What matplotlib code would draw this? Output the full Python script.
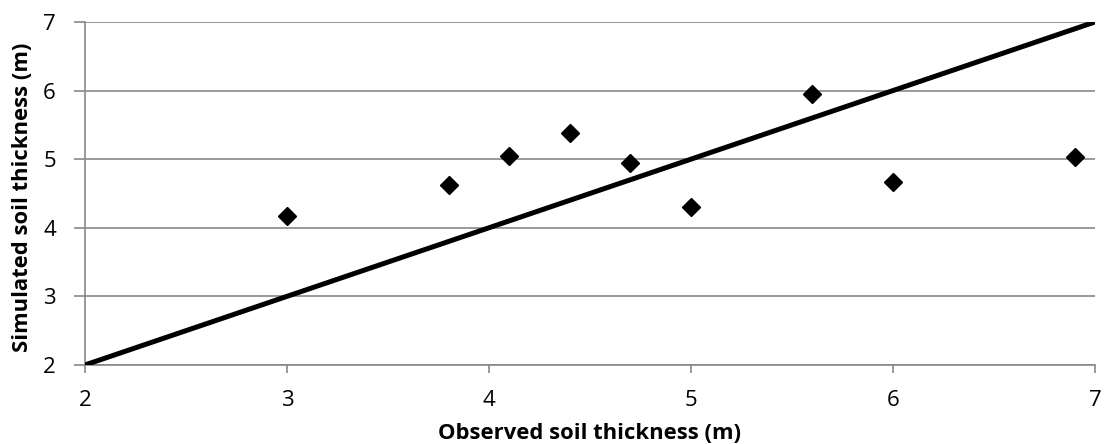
import matplotlib
matplotlib.use("Agg")
import matplotlib.pyplot as plt

observed = [3.0, 3.8, 4.1, 4.4, 4.7, 5.0, 5.6, 6.0, 6.9]
simulated = [4.17, 4.62, 5.04, 5.38, 4.94, 4.31, 5.95, 4.66, 5.03]
line_x = [2, 7]
line_y = [2, 7]
ticks = [2, 3, 4, 5, 6, 7]

plt.rcParams['font.family'] = ['Open Sans', 'DejaVu Sans']

fig = plt.figure(figsize=(11.05, 4.44), dpi=100)
ax = fig.add_axes([0.0769, 0.178, 0.914, 0.7725])

ax.plot(line_x, line_y, color='black', linewidth=3.6, solid_capstyle='butt', zorder=3)
ax.plot(observed, simulated, linestyle='none', marker='D', markersize=9,
        color='black', zorder=4)

ax.set_xlim(2, 7)
ax.set_ylim(2, 7)
ax.set_xticks(ticks)
ax.set_yticks(ticks)
ax.yaxis.grid(True, color='#888888', linewidth=1.2)
ax.set_axisbelow(True)
for s in ['top', 'right']:
    ax.spines[s].set_visible(False)
for s in ['left', 'bottom']:
    ax.spines[s].set_color('#888888')
    ax.spines[s].set_linewidth(1.2)
ax.tick_params(axis='both', colors='#888888', labelcolor='black', labelsize=16, width=1.2)
ax.tick_params(axis='x', length=6, pad=12)
ax.tick_params(axis='y', length=8, pad=13)
ax.set_xlabel('Observed soil thickness (m)', fontsize=15.8, fontweight='bold', va='center')
ax.set_ylabel('Simulated soil thickness (m)', fontsize=15.8, fontweight='bold', va='center')
ax.xaxis.set_label_coords(0.5, -0.2)
ax.yaxis.set_label_coords(-0.062, 0.49)

fig.savefig('out.png', dpi=100)
